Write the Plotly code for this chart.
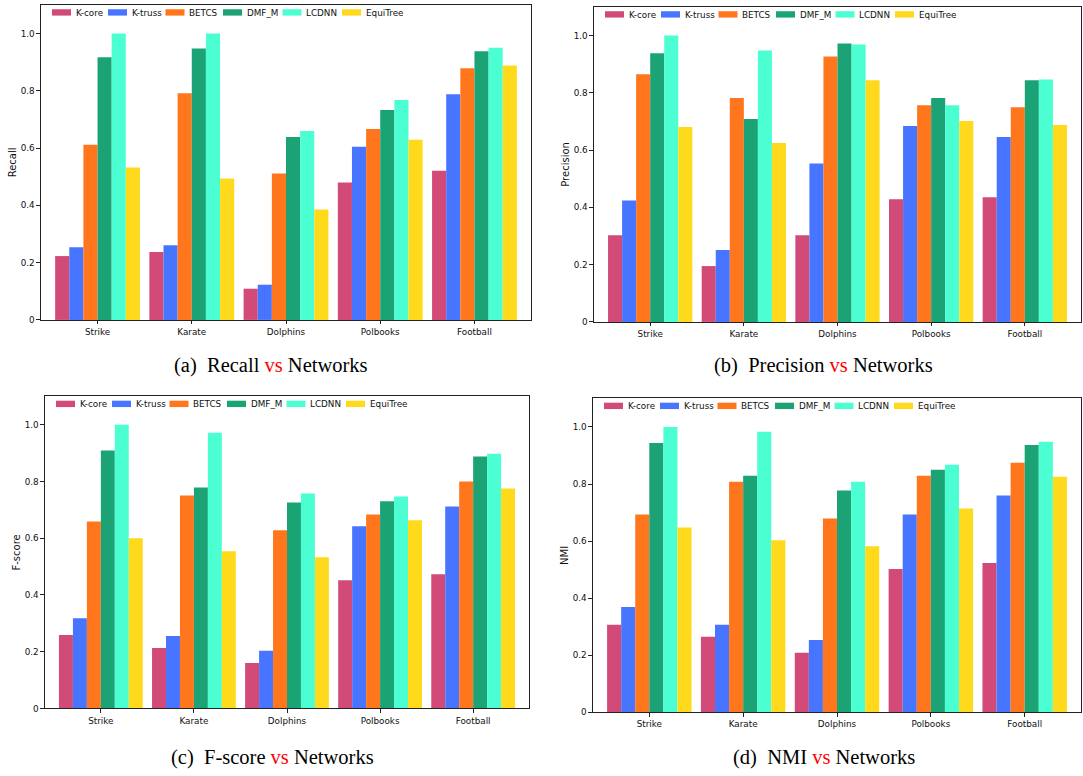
import plotly.graph_objects as go
from plotly.subplots import make_subplots

# ---------------- data ----------------
networks = ["Strike", "Karate", "Dolphins", "Polbooks", "Football"]
methods = ["K-core", "K-truss", "BETCS", "DMF_M", "LCDNN", "EquiTree"]
colors = ["#D14A78", "#4875FF", "#FF761C", "#1BA376", "#4CFFD2", "#FFDA1C"]

# rows follow `methods`, columns follow `networks`
recall_values = [
    [0.223, 0.237, 0.109, 0.480, 0.521],
    [0.254, 0.261, 0.123, 0.605, 0.788],
    [0.612, 0.792, 0.511, 0.667, 0.879],
    [0.917, 0.948, 0.639, 0.733, 0.938],
    [1.000, 1.000, 0.660, 0.768, 0.951],
    [0.532, 0.494, 0.386, 0.629, 0.889],
]
precision_values = [
    [0.303, 0.195, 0.303, 0.428, 0.435],
    [0.424, 0.251, 0.553, 0.684, 0.646],
    [0.865, 0.782, 0.927, 0.757, 0.750],
    [0.938, 0.709, 0.972, 0.782, 0.844],
    [1.000, 0.948, 0.969, 0.757, 0.847],
    [0.681, 0.625, 0.844, 0.702, 0.688],
]
fscore_values = [
    [0.259, 0.213, 0.160, 0.452, 0.473],
    [0.318, 0.255, 0.203, 0.642, 0.712],
    [0.659, 0.751, 0.628, 0.684, 0.800],
    [0.909, 0.779, 0.726, 0.730, 0.888],
    [1.000, 0.972, 0.758, 0.747, 0.898],
    [0.600, 0.554, 0.533, 0.663, 0.775],
]
nmi_values = [
    [0.307, 0.265, 0.209, 0.502, 0.523],
    [0.369, 0.307, 0.254, 0.693, 0.760],
    [0.693, 0.808, 0.679, 0.829, 0.875],
    [0.944, 0.829, 0.777, 0.850, 0.937],
    [1.000, 0.983, 0.808, 0.868, 0.948],
    [0.648, 0.603, 0.582, 0.714, 0.826],
]
y_tickvals = [0, 0.2, 0.4, 0.6, 0.8, 1.0]
y_ticktext = ["0", "0.2", "0.4", "0.6", "0.8", "1.0"]

metric_names = ["Recall", "Precision", "F-score", "NMI"]
metric_values = [recall_values, precision_values, fscore_values, nmi_values]
caption_labels = ["(a)", "(b)", "(c)", "(d)"]

# ---------------- layout geometry (pixels) ----------------
W, H = 1083, 776
# (left, top, right, bottom) of each plotting box
boxes = [(41, 5, 531, 322), (594, 7, 1081, 324), (45, 399, 529, 713), (593, 401, 1081, 717)]
caption_pos = [(271, 367.5), (823, 367.5), (272, 762), (824, 762)]
legend_offsets = [11, 67, 124.5, 182, 241.5, 301]

def px(x):
    return x / W

def py(y):
    return 1 - y / H

fig = make_subplots(rows=2, cols=2)
font_tick = dict(family="DejaVu Sans", size=8.8, color="#111111")
shapes = []
annotations = []

for k, (name, vals) in enumerate(zip(metric_names, metric_values)):
    r, c = k // 2 + 1, k % 2 + 1
    for i, m in enumerate(methods):
        fig.add_trace(
            go.Bar(x=networks, y=vals[i], name=m, marker=dict(color=colors[i], line=dict(width=0)),
                   showlegend=False),
            row=r, col=c,
        )
    L, T, R, B = boxes[k]
    sfx = "" if k == 0 else str(k + 1)
    fig.layout["xaxis" + sfx].update(
        domain=[px(L), px(R)], range=[-0.6, 4.6], showline=True, mirror=True,
        linecolor="#222222", linewidth=1.1, ticks="outside", ticklen=3.5, tickwidth=0.8,
        tickcolor="#222222", tickfont=font_tick, showgrid=False, zeroline=False,
    )
    fig.layout["yaxis" + sfx].update(
        domain=[py(B), py(T)], range=[0, 1.1], showline=True, mirror=True,
        linecolor="#222222", linewidth=1.1, ticks="outside", ticklen=3.5, tickwidth=0.8,
        tickcolor="#222222", tickfont=font_tick, showgrid=False, zeroline=False,
        tickvals=y_tickvals, ticktext=y_ticktext,
        title=dict(text=name, font=dict(family="DejaVu Sans", size=10, color="#111111"), standoff=1.5),
    )
    # legend (matplotlib style: long flat patches, one row)
    for i, m in enumerate(methods):
        x0 = L + legend_offsets[i]
        shapes.append(dict(type="rect", xref="paper", yref="paper",
                           x0=px(x0), x1=px(x0 + 19), y0=py(T + 10.7), y1=py(T + 4.3),
                           fillcolor=colors[i], line=dict(width=0)))
        annotations.append(dict(xref="paper", yref="paper", x=px(x0 + 22.5), y=py(T + 7.6),
                                xanchor="left", yanchor="middle", showarrow=False, text=m,
                                font=dict(family="DejaVu Sans", size=8.8, color="#111111"),
                                borderpad=0))
    cx, cy = caption_pos[k]
    annotations.append(dict(xref="paper", yref="paper", x=px(cx), y=py(cy), xanchor="center",
                            yanchor="middle", showarrow=False,
                            text=f"{caption_labels[k]}\u00a0 {name} <span style='color:#FF0000'>vs</span> Networks",
                            font=dict(family="Liberation Serif", size=20.5, color="#000000")))

fig.update_layout(
    width=W, height=H, margin=dict(l=0, r=0, t=0, b=0),
    paper_bgcolor="white", plot_bgcolor="white",
    barmode="group", bargap=0.1, bargroupgap=0,
    shapes=shapes, annotations=annotations, showlegend=False,
)

fig.write_html("out.html", config={"displayModeBar": False},
               post_script="document.body.style.margin='0';document.body.style.padding='0';")
